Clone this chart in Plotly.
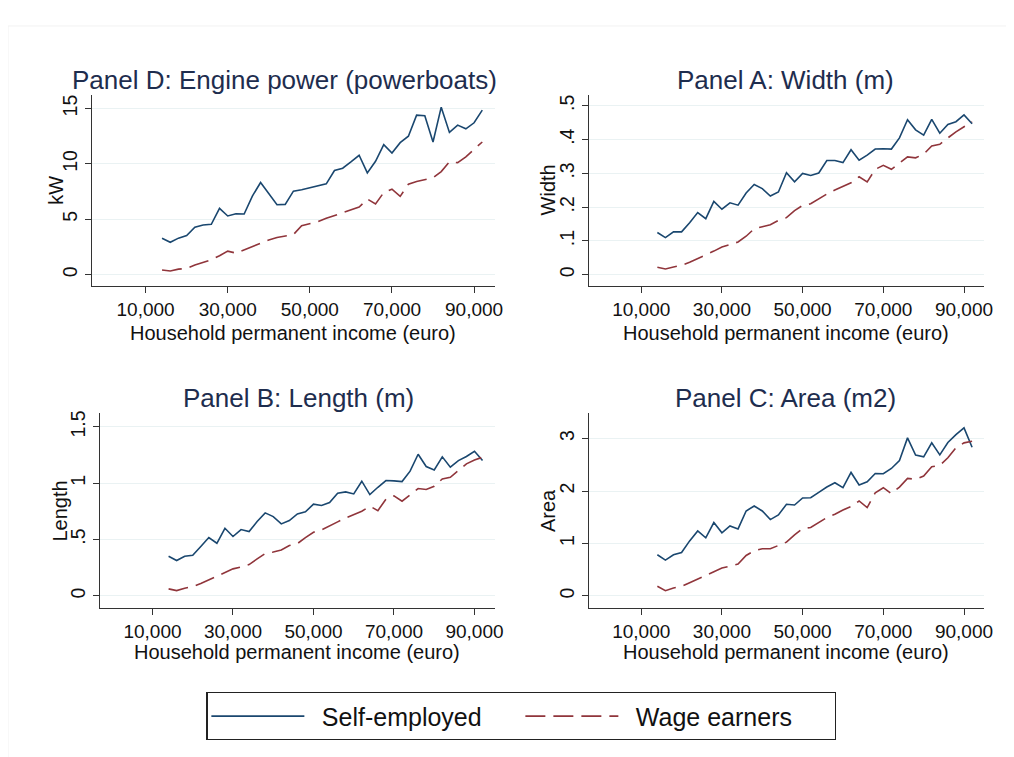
import plotly.graph_objects as go

W, H = 1006, 749
OFF = 8  # page body margin

income = [14000 + 2000 * i for i in range(40)]

kw_self = [3.29, 2.93, 3.30, 3.53, 4.28, 4.49, 4.55, 5.99, 5.30, 5.50,
           5.48, 7.10, 8.32, 7.37, 6.32, 6.35, 7.54, 7.66, 7.84, 8.02,
           8.20, 9.40, 9.61, 10.18, 10.78, 9.19, 10.24, 11.74, 10.99, 11.92,
           12.50, 14.40, 14.34, 11.98, 15.12, 12.84, 13.50, 13.17, 13.71, 14.85]
kw_wage = [0.42, 0.33, 0.50, 0.57, 0.87, 1.14, 1.35, 1.71, 2.13, 1.95,
           2.25, 2.54, 2.87, 3.14, 3.35, 3.47, 3.62, 4.43, 4.64, 4.79,
           5.09, 5.33, 5.60, 5.87, 6.10, 6.83, 6.38, 7.42, 7.72, 7.07,
           8.17, 8.41, 8.56, 8.74, 9.31, 10.18, 10.12, 10.63, 11.32, 11.98]

width_self = [0.125, 0.110, 0.127, 0.127, 0.154, 0.184, 0.166, 0.217, 0.194, 0.213,
              0.206, 0.242, 0.267, 0.255, 0.233, 0.245, 0.302, 0.275, 0.300, 0.294,
              0.301, 0.338, 0.338, 0.332, 0.370, 0.339, 0.354, 0.372, 0.373, 0.372,
              0.405, 0.459, 0.429, 0.413, 0.460, 0.419, 0.445, 0.453, 0.473, 0.447]
width_wage = [0.022, 0.017, 0.023, 0.028, 0.037, 0.047, 0.059, 0.070, 0.082, 0.089,
              0.097, 0.114, 0.136, 0.142, 0.148, 0.161, 0.169, 0.190, 0.205, 0.210,
              0.225, 0.239, 0.251, 0.261, 0.272, 0.290, 0.275, 0.312, 0.324, 0.312,
              0.331, 0.349, 0.346, 0.357, 0.381, 0.386, 0.405, 0.423, 0.438, 0.453]

length_self = [0.352, 0.314, 0.352, 0.361, 0.438, 0.518, 0.467, 0.600, 0.527, 0.589,
               0.571, 0.660, 0.737, 0.704, 0.639, 0.669, 0.728, 0.746, 0.814, 0.802,
               0.828, 0.911, 0.923, 0.905, 1.018, 0.899, 0.964, 1.024, 1.021, 1.015,
               1.107, 1.257, 1.148, 1.118, 1.234, 1.142, 1.201, 1.237, 1.284, 1.201]
length_wage = [0.062, 0.047, 0.068, 0.083, 0.109, 0.142, 0.175, 0.207, 0.240, 0.257,
               0.278, 0.328, 0.376, 0.390, 0.408, 0.447, 0.464, 0.518, 0.565, 0.586,
               0.624, 0.657, 0.692, 0.719, 0.751, 0.796, 0.757, 0.858, 0.888, 0.840,
               0.899, 0.953, 0.944, 0.973, 1.038, 1.053, 1.112, 1.172, 1.207, 1.231]

area_self = [0.785, 0.684, 0.785, 0.829, 1.050, 1.240, 1.108, 1.399, 1.203, 1.335,
             1.278, 1.620, 1.715, 1.620, 1.456, 1.544, 1.747, 1.734, 1.867, 1.873,
             1.975, 2.076, 2.158, 2.063, 2.354, 2.114, 2.177, 2.335, 2.329, 2.430,
             2.582, 3.013, 2.684, 2.652, 2.918, 2.690, 2.924, 3.076, 3.203, 2.835]
area_wage = [0.184, 0.101, 0.152, 0.184, 0.253, 0.316, 0.392, 0.462, 0.532, 0.570,
             0.608, 0.772, 0.861, 0.899, 0.899, 0.962, 1.025, 1.165, 1.285, 1.304,
             1.399, 1.494, 1.557, 1.639, 1.703, 1.810, 1.684, 1.968, 2.063, 1.949,
             2.076, 2.241, 2.222, 2.285, 2.462, 2.487, 2.633, 2.823, 2.918, 2.949]

x_tickvals = [10000, 30000, 50000, 70000, 90000]
x_ticktext = ["10,000", "30,000", "50,000", "70,000", "90,000"]

panel_titles = ["Panel D: Engine power (powerboats)", "Panel A: Width (m)",
                "Panel B: Length (m)", "Panel C: Area (m2)"]
y_titles = ["kW", "Width", "Length", "Area"]
x_title = "Household permanent income (euro)"
legend_names = ["Self-employed", "Wage earners"]

y_ticks = [
    ([0, 5, 10, 15], ["0", "5", "10", "15"]),
    ([0, 0.1, 0.2, 0.3, 0.4, 0.5], ["0", ".1", ".2", ".3", ".4", ".5"]),
    ([0, 0.5, 1, 1.5], ["0", ".5", "1", "1.5"]),
    ([0, 1, 2, 3], ["0", "1", "2", "3"]),
]
y_ranges = [[-1.01, 16.25], [-0.033, 0.533], [-0.104, 1.62], [-0.222, 3.48]]
series = [(kw_self, kw_wage), (width_self, width_wage),
          (length_self, length_wage), (area_self, area_wage)]

# panel boxes in window pixels: (left, right, top, bottom)
boxes = [(93, 499, 92, 284), (594, 993, 92, 284),
         (101, 499, 412, 607), (594, 993, 412, 607)]
title_pos = [(287, 77), (793, 77), (301, 397), (793, 397)]
ytitle_pos = [(57, 188), (553, 188), (60, 510), (553, 510)]
xtitle_y = [331, 331, 652, 652]

NAVY = "#1a476f"
MAROON = "#90353b"
GRID = "#eaf2f3"
AXIS = "#333333"
FONT = "Liberation Sans, Arial, sans-serif"


def px(x):
    return (x - OFF) / W


def py(y):
    return 1 - (y - OFF) / H


fig = go.Figure()
layout = dict(width=W, height=H, margin=dict(l=0, r=0, t=0, b=0),
              paper_bgcolor="white", plot_bgcolor="white",
              font=dict(family=FONT, color="#111111", size=19))
annotations = []
for i in range(4):
    xa = "x" if i == 0 else f"x{i + 1}"
    ya = "y" if i == 0 else f"y{i + 1}"
    s, w = series[i]
    fig.add_trace(go.Scatter(x=income, y=s, mode="lines", xaxis=xa, yaxis=ya,
                             line=dict(color=NAVY, width=1.6),
                             name="\u2002" + legend_names[0], showlegend=(i == 0),
                             legendgroup="s"))
    fig.add_trace(go.Scatter(x=income, y=w, mode="lines", xaxis=xa, yaxis=ya,
                             line=dict(color=MAROON, width=1.6, dash="20px,8px"),
                             name="\u2002" + legend_names[1], showlegend=(i == 0),
                             legendgroup="w"))
    l, r, t, b = boxes[i]
    key = "" if i == 0 else str(i + 1)
    layout["xaxis" + key] = dict(
        domain=[px(l), px(r)], range=[-3000, 95000], anchor=ya,
        tickvals=x_tickvals, ticktext=x_ticktext, ticks="outside", ticklen=6,
        tickcolor=AXIS, showline=True, linecolor=AXIS, linewidth=1.2,
        showgrid=False, zeroline=False, tickfont=dict(size=19, color="#111111"))
    tv, tt = y_ticks[i]
    layout["yaxis" + key] = dict(
        domain=[py(b), py(t)], range=y_ranges[i], anchor=xa,
        tickvals=tv, ticktext=tt, ticks="outside", ticklen=6, tickangle=-90,
        tickcolor=AXIS, showline=True, linecolor=AXIS, linewidth=1.2,
        showgrid=True, gridcolor=GRID, gridwidth=1.2, zeroline=False,
        tickfont=dict(size=19.5, color="#111111"))
    tx, ty = title_pos[i]
    annotations.append(dict(text=panel_titles[i], x=px(tx), y=py(ty),
                            xref="paper", yref="paper", showarrow=False,
                            xanchor="center", yanchor="middle",
                            font=dict(size=26, color="#1e2d4e")))
    yx, yy = ytitle_pos[i]
    annotations.append(dict(text=y_titles[i], x=px(yx), y=py(yy),
                            xref="paper", yref="paper", showarrow=False,
                            xanchor="center", yanchor="middle", textangle=-90,
                            font=dict(size=20, color="#111111")))
    annotations.append(dict(text=x_title, x=px((l + r) / 2), y=py(xtitle_y[i]),
                            xref="paper", yref="paper", showarrow=False,
                            xanchor="center", yanchor="middle",
                            font=dict(size=20, color="#111111")))

layout["annotations"] = annotations
layout["legend"] = dict(orientation="h", x=px(526), y=py(716),
                        xanchor="center", yanchor="middle",
                        bordercolor="#222222", borderwidth=1.2,
                        font=dict(size=25, color="#111111"),
                        itemwidth=93, entrywidth=206, bgcolor="white")
layout["shapes"] = [dict(type="rect", xref="paper", yref="paper",
                         x0=px(8), x1=px(1030), y0=py(780), y1=py(23),
                         line=dict(color="#f2f2f2", width=1), layer="below")]
fig.update_layout(**layout)
fig.write_html("out.html")
